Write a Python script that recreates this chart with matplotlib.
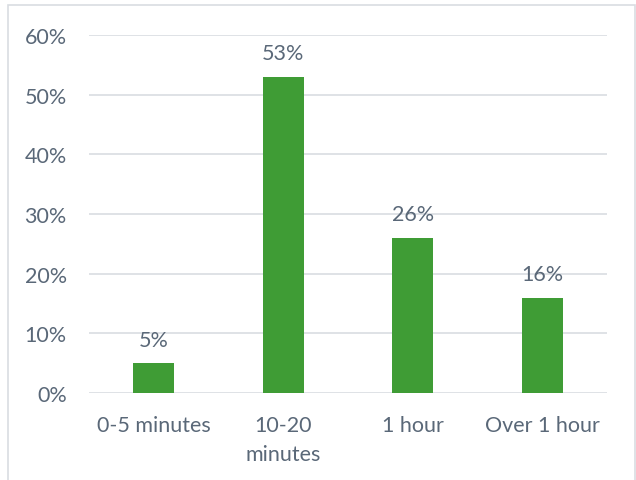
import matplotlib
matplotlib.use("Agg")
import matplotlib.pyplot as plt
from matplotlib.patches import Rectangle

categories = ["0-5 minutes", "10-20\nminutes", "1 hour", "Over 1 hour"]
values = [5, 53, 26, 16]
yticks = [0, 10, 20, 30, 40, 50, 60]

text_color = "#5A6878"
grid_color = "#D9DDE2"
bar_color = "#3F9C35"

plt.rcParams['font.family'] = ['Lato', 'DejaVu Sans']

W, H = 636, 481
fig = plt.figure(figsize=(W/100, H/100), dpi=100)
fig.patch.set_facecolor("white")

# chart border
fig.add_artist(Rectangle((8/W, -0.01), (635-8)/W, 1 - 6/H + 0.01, transform=fig.transFigure,
                         fill=False, edgecolor=grid_color, linewidth=1.2))

ax = fig.add_axes([89/W, 1 - 394/H, (607-89)/W, (394-36)/H])
x = range(len(categories))
bars = ax.bar(x, values, width=0.32, color=bar_color, zorder=3)
ax.set_xlim(-0.5, len(categories) - 0.5)
ax.set_ylim(0, 60)
ax.set_yticks(yticks)
ax.set_yticklabels([f"{t}%" for t in yticks])
ax.set_xticks(list(x))
ax.set_xticklabels(categories, linespacing=1.55, va="top")
ax.grid(axis="y", color=grid_color, linewidth=1.2, zorder=0)
for s in ax.spines.values():
    s.set_visible(False)
ax.tick_params(axis="both", length=0, labelsize=15.5, colors=text_color)
ax.tick_params(axis="y", pad=16)
ax.tick_params(axis="x", pad=16)

for xi, v in zip(x, values):
    ax.annotate(f"{v}%", (xi, v), xytext=(0, 17), textcoords="offset points",
                ha="center", va="center", fontsize=15.5, color=text_color)

fig.savefig("out.png", dpi=100)
